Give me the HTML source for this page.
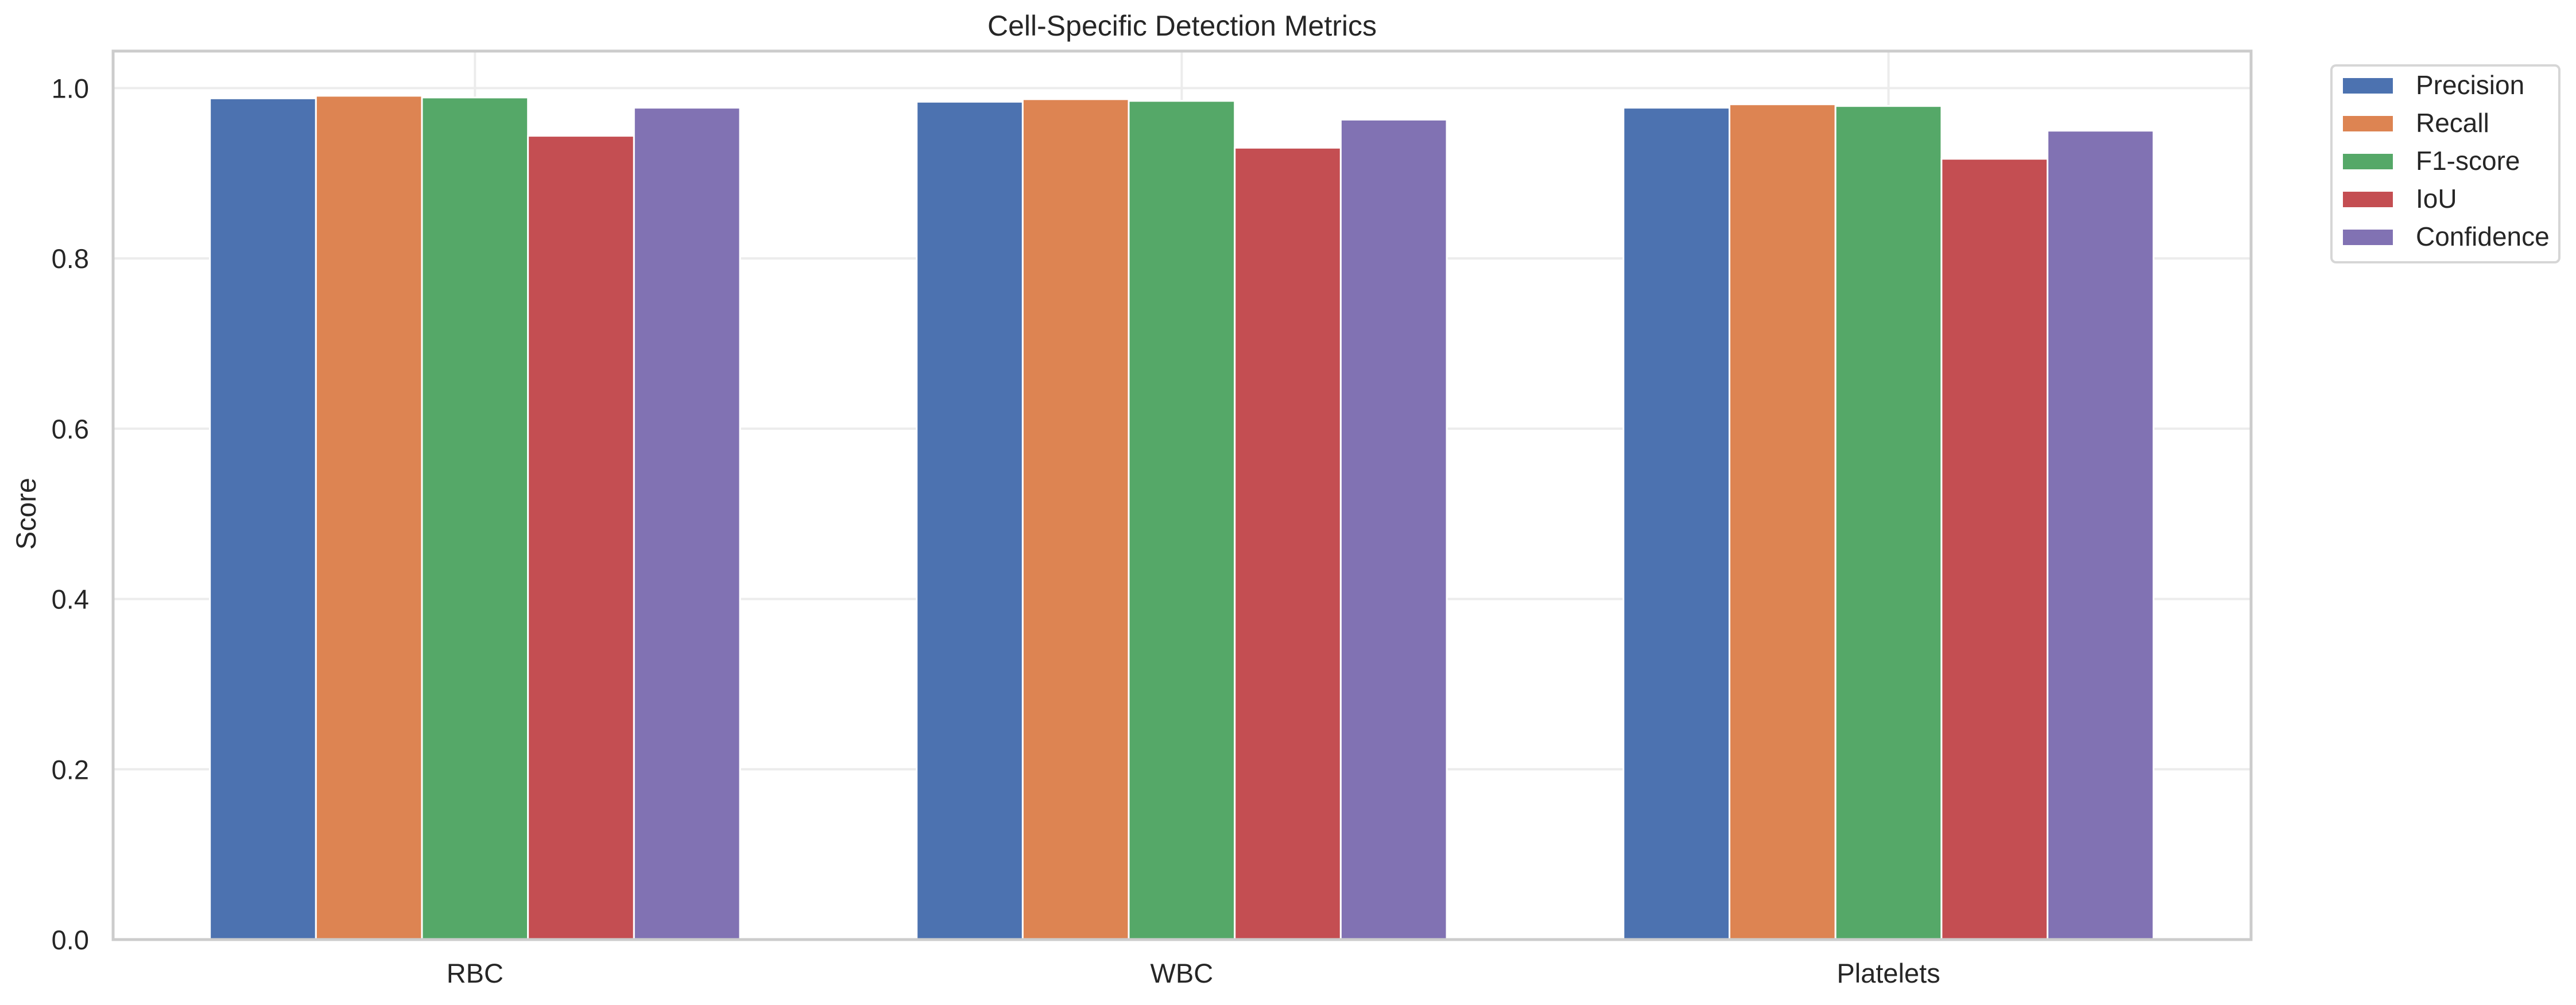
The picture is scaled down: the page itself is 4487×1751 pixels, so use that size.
<!DOCTYPE html>
<html><head><meta charset="utf-8"><style>
html,body{margin:0;padding:0;background:#fff;}
svg{display:block;font-family:"Liberation Sans",Arial,sans-serif;}
</style></head><body>
<svg id="chart" width="4487" height="1751" viewBox="0 0 4487 1751" xmlns="http://www.w3.org/2000/svg">
<rect x="0" y="0" width="4487" height="1751" fill="#fff"/>
<g id="grid"></g>
<g id="bars"></g>
<g id="axes"></g>
<text x="2059" y="62" font-size="50" text-anchor="middle" fill="#262626">Cell-Specific Detection Metrics</text>
<text transform="translate(62,895) rotate(-90)" font-size="48" text-anchor="middle" fill="#262626">Score</text>
<g id="legend"></g>
</svg>
<script>
const categories = ["RBC", "WBC", "Platelets"];
const seriesNames = ["Precision", "Recall", "F1-score", "IoU", "Confidence"];
const precision = [0.988, 0.984, 0.977];
const recall = [0.991, 0.987, 0.981];
const f1score = [0.989, 0.985, 0.979];
const iou = [0.944, 0.930, 0.917];
const confidence = [0.977, 0.963, 0.950];
const yTicks = [0.0, 0.2, 0.4, 0.6, 0.8, 1.0];
const yTickLabels = ["0.0", "0.2", "0.4", "0.6", "0.8", "1.0"];

const series = [precision, recall, f1score, iou, confidence];
const colors = ["#4c72b0", "#dd8452", "#55a868", "#c44e52", "#8172b3"];
const NS = "http://www.w3.org/2000/svg";
const L = 197, R = 3921, T = 89, B = 1637;
const xMin = -0.512, xMax = 2.513, yMin = 0, yMax = 1.0435;
const barW = 0.15;
function xS(v){ return L + (v - xMin) / (xMax - xMin) * (R - L); }
function yS(v){ return B - (v - yMin) / (yMax - yMin) * (B - T); }
function mk(tag, attrs, parent){ const e = document.createElementNS(NS, tag); for (const k in attrs) e.setAttribute(k, attrs[k]); parent.appendChild(e); return e; }

const grid = document.getElementById('grid');
const bars = document.getElementById('bars');
const axes = document.getElementById('axes');
const legend = document.getElementById('legend');

yTicks.forEach((t, i) => {
  const gl = mk('line', {x1: L, x2: R, y1: yS(t), y2: yS(t), stroke: '#ececec', 'stroke-width': 4}, grid);
  
  
  const tl = mk('text', {x: 155, y: yS(t) + 17, 'font-size': 47, 'text-anchor': 'end', fill: '#262626'}, axes);
  tl.textContent = yTickLabels[i];
  
  
});
categories.forEach((c, i) => {
  const gl = mk('line', {x1: xS(i), x2: xS(i), y1: T, y2: B, stroke: '#ececec', 'stroke-width': 4}, grid);
  
  
  const tl = mk('text', {x: xS(i), y: 1712, 'font-size': 47, 'text-anchor': 'middle', fill: '#262626'}, axes);
  tl.textContent = c;
  
  
});
series.forEach((vals, s) => {
  vals.forEach((v, i) => {
    const cx = i + (s - 2) * barW;
    const x0 = xS(cx - barW / 2), x1 = xS(cx + barW / 2);
    const r = mk('rect', {x: x0, y: yS(v), width: x1 - x0, height: yS(0) - yS(v), fill: colors[s], stroke: '#fff', 'stroke-width': 3}, bars);
    
    
  });
});
const frame = mk('rect', {x: L, y: T, width: R - L, height: B - T, fill: 'none', stroke: '#cccccc', 'stroke-width': 5}, axes);



const lb = mk('rect', {x: 4061, y: 114, width: 397, height: 343, rx: 8, fill: '#fff', stroke: '#d6d6d6', 'stroke-width': 4}, legend);


seriesNames.forEach((n, s) => {
  const y = 136 + s * 66;
  const p = mk('rect', {x: 4081, y: y, width: 87, height: 27, fill: colors[s]}, legend);
  
  
  const t = mk('text', {x: 4208, y: y + 28, 'font-size': 46, fill: '#262626'}, legend);
  t.textContent = n;
  
  
});
</script>
</body></html>
